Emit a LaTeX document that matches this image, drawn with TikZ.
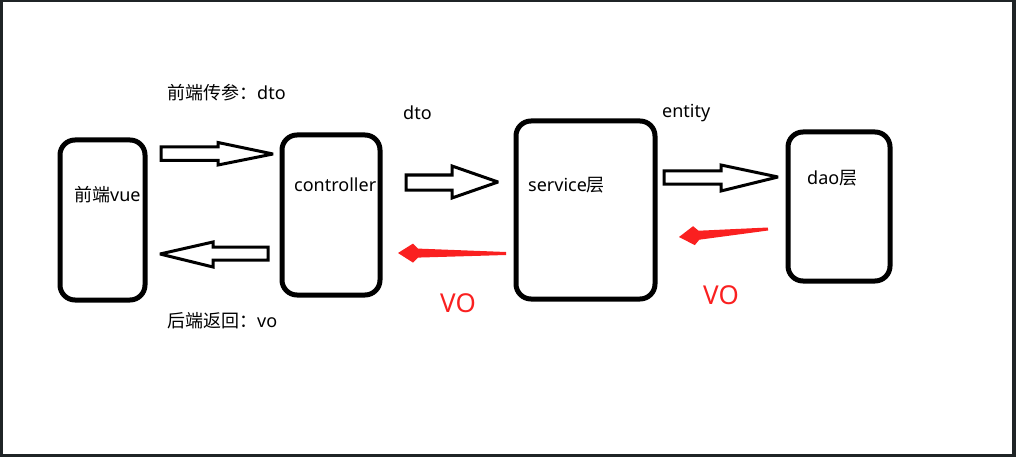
\documentclass[tikz,border=0pt]{standalone}
\usepackage{fontspec}
\setmainfont{Noto Sans}
\newfontfamily\cjk{Noto Sans CJK SC}
\usetikzlibrary{calc}

\definecolor{voRed}{RGB}{250,32,32}
\definecolor{frameGray}{RGB}{31,36,38}

\begin{document}
\begin{tikzpicture}[
    x=1pt, y=-1pt,
    layer/.style={draw=black, line width=5pt, rounded corners=15pt, minimum height=160pt, inner sep=0pt},
    txt/.style={anchor=base west, inner sep=0pt, font=\fontsize{18}{22}\selectfont},
    votxt/.style={txt, text=voRed, font=\fontsize{26}{30}\selectfont},
    hollowarr/.style={draw=black, fill=white, line width=3pt, line join=miter, miter limit=3},
    redarr/.style={fill=voRed, to path={
        ($(\tikztostart)!1.5pt!90:(\tikztotarget)$)
        -- ($(\tikztotarget)!20pt!(\tikztostart)!4.5pt!-90:(\tikztostart)$)
        -- ($(\tikztotarget)!15pt!(\tikztostart)!9.5pt!-90:(\tikztostart)$)
        -- (\tikztotarget)
        -- ($(\tikztotarget)!15pt!(\tikztostart)!9.5pt!90:(\tikztostart)$)
        -- ($(\tikztotarget)!20pt!(\tikztostart)!4.5pt!90:(\tikztostart)$)
        -- ($(\tikztostart)!1.5pt!-90:(\tikztotarget)$)
        -- cycle}},
]

% ============ frame ============
\fill[frameGray] (0,0) rectangle (1016,457);
\fill[white] (3,2) rectangle (1012,454);

% ============ layers ============
\node[layer, minimum width=85pt] (vue) at (102.5,220) {};
\node[layer, minimum width=98pt] (ctrl) at (331,215) {};
\node[layer, minimum width=139pt, minimum height=178pt] (service) at (585.5,210) {};
\node[layer, minimum width=102pt, minimum height=149pt] (dao) at (839,206.5) {};

\node[txt] (vue_lbl) at (74,201) {{\cjk 前端}vue};
\node[txt] (ctrl_lbl) at (294,191) {controller};
\node[txt] (svc_lbl) at (528,191) {service{\cjk 层}};
\node[txt] (dao_lbl) at (807,185) {dao{\cjk 层}};

% ============ request direction ============
\coordinate (v2c_tail) at (161,153.5);
\coordinate (v2c_tip) at (273,154);
\coordinate (c2s_tail) at (406,182.5);
\coordinate (c2s_tip) at (498,182);
\coordinate (s2d_tail) at (664,177.5);
\coordinate (s2d_tip) at (778,177);

\draw[hollowarr] (v2c_tail) ++(0,-6.5) -- ++(57,0) -- ++(0,-4.5) -- (v2c_tip) -- ++(-55,11) -- ++(0,-4.5) -- ++(-57,0) -- cycle;
\draw[hollowarr] (c2s_tail) ++(0,-7.5) -- ++(46,0) -- ++(0,-9) -- (c2s_tip) -- ++(-46,16) -- ++(0,-8) -- ++(-46,0) -- cycle;
\draw[hollowarr] (s2d_tail) ++(0,-6.5) -- ++(57,0) -- ++(0,-6) -- (s2d_tip) -- ++(-57,14) -- ++(0,-7) -- ++(-57,0) -- cycle;

\node[txt] (req_lbl) at (167,100) {{\cjk 前端传参：}dto};
\node[txt] (dto_lbl) at (403,120) {dto};
\node[txt] (ent_lbl) at (662,118) {entity};

% ============ response direction ============
\coordinate (c2v_tail) at (268,253.5);
\coordinate (c2v_tip) at (160,254);
\coordinate (s2c_tail) at (506,253.5);
\coordinate (s2c_tip) at (398,253);
\coordinate (d2s_tail) at (768,229);
\coordinate (d2s_tip) at (679,237);

\draw[hollowarr] (c2v_tail) ++(0,-6.5) -- ++(-55,0) -- ++(0,-5) -- (c2v_tip) -- ++(53,13) -- ++(0,-7) -- ++(55,0) -- cycle;
\fill[redarr] (s2c_tail) to (s2c_tip);
\fill[redarr] (d2s_tail) to (d2s_tip);

\node[txt] (resp_lbl) at (167,327) {{\cjk 后端返回：}vo};
\node[votxt] (vo_svc) at (440,312) {VO};
\node[votxt] (vo_dao) at (703,304) {VO};

\end{tikzpicture}
\end{document}
